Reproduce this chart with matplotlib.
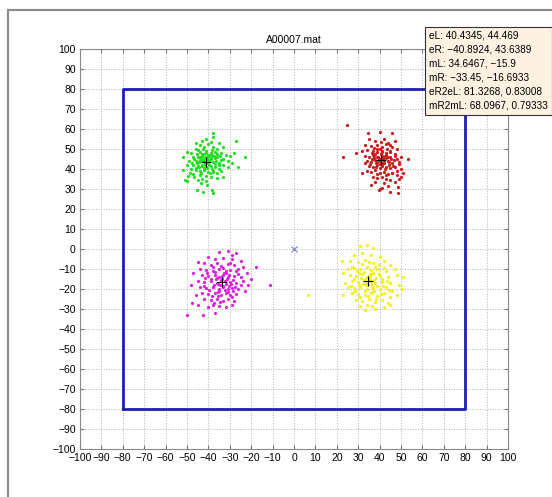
import matplotlib
matplotlib.use("Agg")
import matplotlib.pyplot as plt
from matplotlib.patches import Rectangle
import numpy as np

# puntos de cada grupo (x, y), leidos a ojo de la figura
green_pts = [(-37.8, 57.8), (-37.8, 56.2), (-27.2, 54.0), (-23.0, 46.2), (-26.1, 41.2), (-33.1, 36.2),
             (-51.7, 39.5), (-50.9, 34.5), (-50.0, 33.8), (-45.5, 29.5), (-42.4, 28.7), (-38.5, 29.5),
             (-37.8, 27.8), (-40.5, 32.0), (-43.5, 33.0), (-46.5, 36.0),
             (-44, 52), (-42, 51), (-40, 52.5), (-38, 51), (-36, 50), (-46, 50), (-48, 48), (-44, 48.5),
             (-41, 49), (-39, 48), (-37, 48.5), (-34, 48), (-32, 47), (-30, 46.5), (-47, 46), (-45, 46),
             (-43, 46.5), (-41, 46), (-39, 45.5), (-36, 46), (-33, 45), (-31, 44), (-49, 44), (-46, 44),
             (-44, 44.5), (-42, 44), (-40, 43), (-38, 43.5), (-35, 43), (-33, 42), (-50, 42), (-47, 42),
             (-45, 41.5), (-43, 42), (-41, 41), (-39, 41.5), (-37, 41), (-35, 40), (-48, 40), (-46, 39.5),
             (-44, 39), (-42, 39.5), (-40, 38.5), (-38, 39), (-36, 38), (-47, 37.5), (-44, 37), (-41, 36.5),
             (-39, 36), (-43, 35), (-45, 34.5), (-41, 34), (-36, 35.5), (-34, 39), (-31, 41), (-29, 43),
             (-28, 48), (-52, 46), (-50, 48.5), (-43, 54), (-41, 55), (-46, 53), (-35, 53), (-33, 51),
             (-39, 53.5), (-42.5, 50), (-40.5, 45), (-39.5, 44), (-41.5, 42.5), (-37.5, 46.5), (-43.5, 45),
             (-45.5, 43), (-38.5, 40), (-42, 47.5), (-40, 47), (-36.5, 44), (-44.5, 41), (-34, 44.5),
             (-48.5, 38), (-49.5, 36.5),
             (-42.2, 45.3), (-40.1, 46.2), (-38.9, 44.8), (-41.7, 43.1), (-39.6, 42.2), (-43.1, 41.7),
             (-42.8, 47.6), (-38.2, 47.1), (-44.2, 43.3), (-37.1, 42.7), (-40.8, 40.3), (-41.3, 48.1),
             (-45.2, 47.4), (-36.2, 47.7), (-43.6, 38.2), (-39.1, 38.1), (-37.9, 38.7), (-45.8, 40.6),
             (-46.9, 45.2), (-35.1, 41.8), (-42.6, 43.9), (-40.4, 44.6), (-39.2, 46.9), (-44.8, 49.3),
             (-38.3, 49.6), (-41.9, 40.6), (-36.9, 45.6), (-44.1, 46.2), (-47.8, 43.2), (-34.8, 46.7)]

red_pts = [(24.8, 62), (22.8, 46.2), (29, 47.8), (53.1, 45), (31.7, 38.2), (35.9, 32), (39.5, 29.5),
           (40.2, 30), (41, 30.5), (45, 28.7), (48.7, 31.2), (48.7, 28.2), (34.4, 57.8), (40, 58.7),
           (45.6, 57.8),
           (35, 55), (38, 54), (42, 55), (44, 53), (47, 54), (33, 52), (36, 51.5), (39, 52), (41, 51),
           (43, 52.5), (46, 51), (48, 50), (32, 49), (34, 49.5), (37, 49), (39, 48.5), (41, 49), (43, 48),
           (45, 48.5), (47, 47.5), (33, 46.5), (35, 46), (37, 47), (39, 46), (41, 46.5), (43, 45.5),
           (45, 46), (48, 45), (50, 46), (34, 44), (36, 43.5), (38, 44.5), (40, 44), (42, 43), (44, 44),
           (46, 43), (49, 42.5), (35, 41.5), (37, 41), (39, 42), (41, 41.5), (43, 41), (45, 40.5),
           (47, 41), (50, 40), (51, 38), (34, 39), (36, 38.5), (38, 39.5), (40, 38), (42, 38.5),
           (44, 37.5), (46, 38), (48, 37), (50, 36), (37, 36), (39, 35.5), (41, 36), (43, 35), (45, 34.5),
           (47, 33.5), (49, 35), (42, 33), (44, 31.5), (38, 33.5), (40.5, 47.5), (39.5, 45), (41.5, 44.5),
           (40, 42.5), (42.5, 46.5), (38.5, 43), (36.5, 45), (44.5, 42), (46.5, 44.5), (43.5, 50),
           (37.5, 50.5), (40, 50), (45, 52), (48, 39),
           (41.6, 45.3), (39.3, 46.1), (42.2, 44.1), (38.7, 43.3), (40.9, 42.2), (43.2, 47.1), (37.9, 47.6),
           (44.3, 43.3), (36.8, 44.9), (40.2, 40.6), (42.6, 39.9), (38.1, 41.1), (45.4, 44.8), (41.1, 48.6),
           (39.0, 49.8), (46.3, 41.6), (35.7, 42.7), (43.8, 46.1), (37.2, 45.8), (41.7, 43.0), (39.8, 44.9),
           (44.7, 49.2), (36.3, 48.1), (47.2, 46.3), (42.9, 36.8), (38.6, 37.3), (45.8, 37.9), (48.9, 43.7),
           (33.4, 43.1), (40.7, 53.4)]

magenta_pts = [(-11, -18), (-17.9, -9.2), (-21.5, -17.8), (-42.7, -33), (-37, -32.2), (-47.8, -27.2),
               (-45, -28), (-44.7, -6.3), (-50, -33), (-35, -1.3), (-31, -1.0), (-27, -2), (-29, -3),
               (-40, -4), (-37, -5), (-33, -4.5), (-29, -5), (-25, -6), (-42, -7), (-39, -8), (-36, -7),
               (-34, -8.5), (-31, -7.5), (-28, -8), (-24, -9), (-44, -10), (-41, -10.5), (-38, -11),
               (-35, -10), (-32, -11), (-30, -10.5), (-27, -11), (-22, -12), (-43, -13), (-40, -13.5),
               (-37, -13), (-35, -14), (-33, -13), (-31, -14), (-28, -13.5), (-25, -14), (-45, -16),
               (-42, -16.5), (-39, -16), (-36, -17), (-34, -16), (-32, -17.5), (-30, -16.5), (-27, -17),
               (-24, -16), (-44, -19), (-41, -19.5), (-38, -19), (-35, -20), (-33, -19), (-31, -20),
               (-29, -19.5), (-26, -20), (-23, -21), (-43, -22), (-40, -22.5), (-37, -22), (-34, -23),
               (-32, -22), (-30, -23), (-27, -22.5), (-42, -25), (-39, -25.5), (-36, -25), (-33, -26),
               (-31, -25), (-28, -26), (-38, -28), (-35, -28.5), (-32, -29), (-29, -28), (-40, -29),
               (-46, -23), (-47, -12), (-48, -18), (-20, -15), (-33.5, -15), (-34.5, -18), (-32.5, -12),
               (-36.5, -15), (-30.5, -18.5), (-38.5, -23.5), (-28.5, -21), (-41.5, -14.5), (-26, -12.5),
               (-35.5, -21.5),
               (-34.2, -15.4), (-32.1, -16.1), (-35.3, -17.4), (-33.0, -18.6), (-31.2, -15.2), (-36.1, -14.3),
               (-33.8, -13.6), (-30.3, -13.1), (-37.4, -18.2), (-34.9, -20.8), (-32.4, -20.3), (-29.6, -17.7),
               (-38.6, -15.1), (-36.8, -11.7), (-31.7, -11.9), (-28.4, -15.6), (-39.7, -20.6), (-35.6, -23.6),
               (-30.8, -21.7), (-33.2, -9.3), (-37.9, -8.8), (-27.6, -18.8), (-40.6, -11.8), (-29.1, -24.1),
               (-34.5, -26.7), (-26.4, -9.8), (-42.2, -18.4), (-24.8, -18.2), (-37.2, -27.2), (-30.1, -7.1)]

yellow_pts = [(6.7, -23), (31, 1.5), (34, 2), (37, 0.5), (22.3, -6), (23, -12), (50.4, -20), (51, -14),
              (33, -30.5), (38, -30), (42, -29), (45, -28),
              (28, -3), (32, -2), (36, -3), (40, -4), (26, -6), (30, -6.5), (33, -5.5), (37, -7), (42, -6),
              (45, -8), (25, -10), (28, -9.5), (31, -10), (34, -9), (36, -10.5), (39, -10), (43, -11),
              (47, -10), (26, -13), (29, -13.5), (32, -12.5), (35, -13), (37, -12), (40, -13.5), (44, -14),
              (48, -13), (27, -16), (30, -16.5), (33, -15), (36, -16), (38, -17), (41, -16.5), (45, -17),
              (49, -18), (25, -19), (28, -19.5), (31, -19), (34, -20), (37, -19.5), (40, -20), (43, -19),
              (46, -21), (27, -22), (30, -22.5), (33, -23), (36, -22), (39, -23.5), (42, -22), (45, -24),
              (29, -25.5), (32, -26), (35, -25), (38, -26.5), (41, -25.5), (44, -27), (34, -28),
              (31, -28.5), (24, -17), (23, -23), (48, -23), (34.5, -17.5), (35.5, -14), (33.5, -18),
              (36.5, -19), (32.5, -15.5), (38.5, -14.5), (30.5, -12), (39.5, -8), (28.5, -21),
              (41.5, -18.5), (37.5, -21),
              (35.4, -15.1), (33.6, -16.8), (36.2, -17.6), (34.1, -14.2), (32.3, -17.4), (37.3, -15.6),
              (35.8, -12.4), (31.4, -14.6), (38.8, -18.4), (33.2, -20.8), (36.7, -21.1), (30.2, -18.1),
              (39.6, -12.3), (32.9, -11.4), (37.8, -9.2), (29.4, -10.8), (41.3, -14.8), (34.6, -23.7),
              (28.2, -14.9), (40.7, -22.7), (31.9, -7.6), (35.2, -6.4), (43.4, -16.1), (26.8, -18.6),
              (38.1, -24.8), (30.7, -24.1), (44.6, -20.3), (27.1, -8.8), (42.1, -9.3), (36.4, -28.7)]

# centros calculados (cajita de texto)
centers_x = [40.4345, -40.8924, 34.6467, -33.45]
centers_y = [44.469, 43.6389, -15.9, -16.6933]

box_x = [-80, 80, 80, -80, -80]
box_y = [-80, -80, 80, 80, -80]

title = "A00007.mat"
info_lines = ["eL: 40.4345, 44.469",
              "eR: \u221240.8924, 43.6389",
              "mL: 34.6467, \u221215.9",
              "mR: \u221233.45, \u221216.6933",
              "eR2eL: 81.3268, 0.83008",
              "mR2mL: 68.0967, 0.79333"]

plt.rcParams['font.family'] = ['Liberation Sans', 'DejaVu Sans']

fig = plt.figure(figsize=(5.52, 4.97), dpi=100)
ax = fig.add_axes([80/552, 48/497, 428/552, 400/497])

# marco gris de la ventana
fig.add_artist(Rectangle((8/552, -0.5), 2, 1.5 - 10/497, transform=fig.transFigure,
                         fill=False, edgecolor='#8a8a8a', lw=1.5))

ax.plot(box_x, box_y, color='#1e1eb4', lw=2, zorder=2)

for pts, col in [(green_pts, '#22dd22'), (red_pts, '#c81e1e'),
                 (magenta_pts, '#dd22dd'), (yellow_pts, '#f2f21a')]:
    x, y = zip(*pts)
    ax.plot(x, y, '.', color=col, markersize=2.6, zorder=3)

ax.plot(centers_x, centers_y, '+', color='black', markersize=7, mew=0.8, zorder=4)
ax.plot([0], [0], 'x', color='#7080c0', markersize=4, mew=0.8, zorder=4)

ax.set_xlim(-100, 100)
ax.set_ylim(-100, 100)
ax.set_xticks(np.arange(-100, 101, 10))
ax.set_yticks(np.arange(-100, 101, 10))
ax.tick_params(direction='in', top=True, right=True, length=3, labelsize=7.5,
               color='#777777', pad=3)
ax.set_xticklabels([str(v).replace('-', '\u2212') for v in range(-100, 101, 10)])
ax.set_yticklabels([str(v).replace('-', '\u2212') for v in range(-100, 101, 10)])
ax.grid(True, linestyle=':', color='#b0b0b0', lw=0.7)
for s in ax.spines.values():
    s.set_color('#888888')
ax.set_title(title, fontsize=7.5, pad=4)

fig.text(429/552, 1 - 31/497, "\n".join(info_lines), fontsize=7.2, va='top', ha='left',
         linespacing=1.5,
         bbox=dict(boxstyle='square,pad=0.4', facecolor='#fdf2e2', edgecolor='#333333', lw=0.8))

fig.savefig("out.png", dpi=100)
